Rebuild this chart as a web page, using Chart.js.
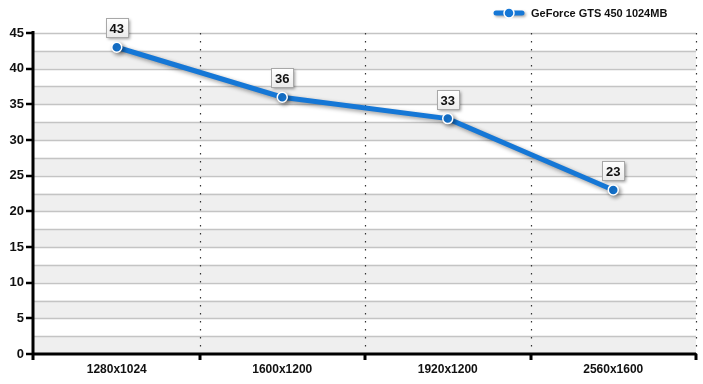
<!DOCTYPE html>
<html><head><meta charset="utf-8">
<script src="https://cdn.jsdelivr.net/npm/chart.js@4/dist/chart.umd.min.js"></script>
<style>html,body{margin:0;padding:0;background:#fff}#wrap{width:703px;height:384px}</style>
</head><body><div id="wrap"><canvas id="c" width="703" height="384"></canvas></div>
<script>
const categories = ['1280x1024', '1600x1200', '1920x1200', '2560x1600'];
const seriesName = 'GeForce GTS 450 1024MB';
const values = [43, 36, 33, 23];
const yTicks = [0, 5, 10, 15, 20, 25, 30, 35, 40, 45];
const lineColor = '#1577d6';

const deco = {
  id: 'deco',
  beforeDatasetsDraw(chart) {
    const {ctx, chartArea: a, scales: {x, y}} = chart;
    ctx.save();
    for (let v = 0; v < 45; v += 5) {
      const y0 = y.getPixelForValue(v), y1 = y.getPixelForValue(v + 2.5);
      ctx.fillStyle = '#efefef';
      ctx.fillRect(a.left, y1, a.right - a.left, y0 - y1);
    }
    ctx.strokeStyle = '#c4c4c4';
    ctx.lineWidth = 1.5;
    for (let v = 2.5; v <= 45; v += 2.5) {
      const p = Math.round(y.getPixelForValue(v)) + 0.5;
      ctx.beginPath(); ctx.moveTo(a.left, p); ctx.lineTo(a.right, p); ctx.stroke();
    }
    ctx.strokeStyle = '#333';
    ctx.lineWidth = 1.2;
    ctx.setLineDash([1.5, 6.5]);
    const step = x.getPixelForValue(1) - x.getPixelForValue(0);
    for (let i = 1; i <= categories.length; i++) {
      const px = Math.round(x.getPixelForValue(i - 1) + step / 2) + 0.5;
      ctx.beginPath(); ctx.moveTo(px, a.top); ctx.lineTo(px, a.bottom); ctx.stroke();
    }
    ctx.setLineDash([]);
    ctx.strokeStyle = '#000';
    ctx.lineWidth = 3;
    ctx.beginPath(); ctx.moveTo(a.left - 1, a.top - 2); ctx.lineTo(a.left - 1, a.bottom + 6); ctx.stroke();
    ctx.beginPath(); ctx.moveTo(a.left - 1, a.bottom); ctx.lineTo(a.right, a.bottom); ctx.stroke();
    ctx.lineWidth = 2.5;
    yTicks.forEach(v => {
      const p = Math.round(y.getPixelForValue(v));
      ctx.beginPath(); ctx.moveTo(a.left - 8, p); ctx.lineTo(a.left, p); ctx.stroke();
    });
    ctx.lineWidth = 3;
    for (let i = 1; i <= categories.length; i++) {
      const px = Math.round(x.getPixelForValue(i - 1) + step / 2);
      ctx.beginPath(); ctx.moveTo(px, a.bottom); ctx.lineTo(px, a.bottom + 6); ctx.stroke();
    }
    ctx.restore();
  },
  afterDatasetsDraw(chart) {
    const {ctx} = chart;
    const meta = chart.getDatasetMeta(0);
    ctx.save();
    ctx.font = 'bold 13px Arial, "Liberation Sans", sans-serif';
    ctx.textAlign = 'center';
    ctx.textBaseline = 'middle';
    meta.data.forEach((pt, i) => {
      const w = 22, h = 19;
      const bx = Math.round(pt.x - w / 2) + 0.5, by = Math.round(pt.y - 10 - h) + 0.5;
      ctx.save();
      ctx.shadowColor = 'rgba(0,0,0,0.4)';
      ctx.shadowBlur = 3; ctx.shadowOffsetX = 1.5; ctx.shadowOffsetY = 1.5;
      const g = ctx.createLinearGradient(0, by, 0, by + h);
      g.addColorStop(0, '#ffffff'); g.addColorStop(1, '#ebebeb');
      ctx.fillStyle = g;
      ctx.fillRect(bx, by, w, h);
      ctx.restore();
      ctx.strokeStyle = '#a8a8a8'; ctx.lineWidth = 1;
      ctx.strokeRect(bx, by, w, h);
      ctx.fillStyle = '#111';
      ctx.fillText(String(values[i]), pt.x, by + h / 2 + 1);
    });
    const lx = 496, ly = 13;
    ctx.save();
    ctx.shadowColor = 'rgba(0,0,0,0.35)'; ctx.shadowBlur = 3; ctx.shadowOffsetX = 1.5; ctx.shadowOffsetY = 1.5;
    ctx.strokeStyle = lineColor; ctx.lineWidth = 5; ctx.lineCap = 'round';
    ctx.beginPath(); ctx.moveTo(lx, ly); ctx.lineTo(lx + 26, ly); ctx.stroke();
    ctx.restore();
    ctx.beginPath(); ctx.arc(lx + 13, ly, 5, 0, Math.PI * 2);
    ctx.fillStyle = lineColor; ctx.fill();
    ctx.strokeStyle = '#fff'; ctx.lineWidth = 1.5; ctx.stroke();
    ctx.font = 'bold 11px Arial, "Liberation Sans", sans-serif';
    ctx.textAlign = 'left'; ctx.fillStyle = '#111';
    ctx.fillText(seriesName, lx + 35, ly + 1);
    ctx.restore();
  }
};

const shadowLine = {
  id: 'shadowLine',
  beforeDatasetDraw(chart) {
    const ctx = chart.ctx; ctx.save();
    ctx.shadowColor = 'rgba(0,0,0,0.4)'; ctx.shadowBlur = 4; ctx.shadowOffsetX = 2; ctx.shadowOffsetY = 2;
  },
  afterDatasetDraw(chart) { chart.ctx.restore(); }
};

new Chart(document.getElementById('c'), {
  type: 'line',
  data: {
    labels: categories,
    datasets: [{
      label: seriesName,
      data: values,
      borderColor: lineColor,
      backgroundColor: lineColor,
      borderWidth: 5,
      tension: 0,
      pointRadius: 5,
      pointBorderColor: '#fff',
      pointBorderWidth: 1.5,
      pointBackgroundColor: lineColor
    }]
  },
  options: {
    responsive: false,
    animation: false,
    events: [],
    layout: {padding: {top: 33, right: 7, left: 0, bottom: 0}},
    plugins: {legend: {display: false}, tooltip: {enabled: false}},
    scales: {
      x: {
        offset: true,
        afterFit(s) { s.height = 30; },
        grid: {display: false, drawTicks: false, offset: true},
        border: {display: false},
        ticks: {color: '#111', font: {family: 'Arial, "Liberation Sans", sans-serif', size: 12, weight: 'bold'}, padding: 8}
      },
      y: {
        min: 0, max: 45,
        afterFit(s) { s.width = 34; },
        afterBuildTicks(s) { s.ticks = yTicks.map(v => ({value: v})); },
        grid: {display: false, drawTicks: false},
        border: {display: false},
        ticks: {color: '#111', font: {family: 'Arial, "Liberation Sans", sans-serif', size: 13, weight: 'bold'}, padding: 10}
      }
    }
  },
  plugins: [deco, shadowLine]
});
</script></body></html>
